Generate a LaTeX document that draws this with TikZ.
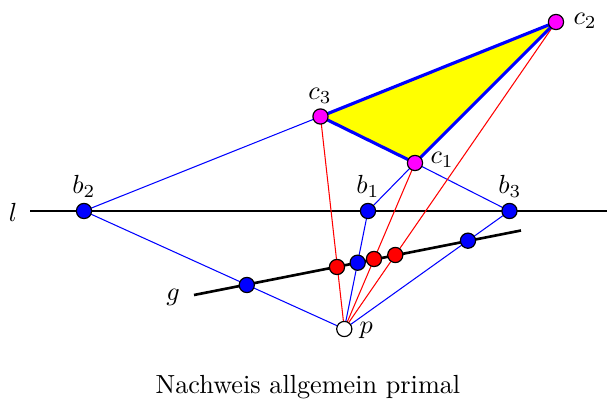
\documentclass[tikz,border=0pt]{standalone}
\definecolor{mag}{RGB}{255,0,255}
\definecolor{yel}{RGB}{255,255,0}
\definecolor{blu}{RGB}{0,0,255}
\definecolor{rd}{RGB}{255,0,0}
\begin{document}
\begin{tikzpicture}[x=0.3815pt,y=-0.3815pt,
  pt/.style={circle,draw=black,line width=0.45pt,inner sep=0pt,minimum size=5.8pt},
  bpt/.style={pt,fill=blu},
  rpt/.style={pt,fill=rd},
  mpt/.style={pt,fill=mag},
  wpt/.style={pt,fill=white},
  bl/.style={blu,line width=0.4pt},
  rl/.style={rd,line width=0.4pt},
  lbl/.style={inner sep=0pt}]
\useasboundingbox (0,0) rectangle (607,403);
% coordinates
\coordinate (C1) at (415,163);
\coordinate (C2) at (556,22);
\coordinate (C3) at (320.5,116.5);
\coordinate (B1) at (368,211);
\coordinate (B2) at (84,211);
\coordinate (B3) at (509.5,211);
\coordinate (P) at (344.3,329);
\coordinate (L0) at (30.5,211);
\coordinate (L1) at (607,211);
\coordinate (G0) at (194,295);
\coordinate (G1) at (521,230.5);
% triangle
\fill[yel] (C1) -- (C2) -- (C3) -- cycle;
% line l
\draw[line width=0.4pt] (L0) -- (L1);
% blue thin lines
\draw[bl] (B2) -- (C3);
\draw[bl] (B2) -- (P);
\draw[bl] (B1) -- (C1);
\draw[bl] (B1) -- (P);
\draw[bl] (B3) -- (C1);
\draw[bl] (B3) -- (P);
% red lines
\draw[rl] (C3) -- (P);
\draw[rl] (C1) -- (P);
\draw[rl] (C2) -- (P);
% triangle border
\draw[blu,line width=1.2pt,line join=round] (C1) -- (C2) -- (C3) -- cycle;
% line g
\draw[line width=1pt] (G0) -- (G1);
% points on g
\node[bpt] (q2) at (246.8,285) {};
\node[rpt] (r3) at (337,267) {};
\node[bpt] (q1) at (357.7,262.7) {};
\node[rpt] (r1) at (374,259) {};
\node[rpt] (r2) at (395.3,255) {};
\node[bpt] (q3) at (468,240.7) {};
% main points
\node[bpt] (b1) at (B1) {};
\node[bpt] (b2) at (B2) {};
\node[bpt] (b3) at (B3) {};
\node[mpt] (c1) at (C1) {};
\node[mpt] (c2) at (C2) {};
\node[mpt] (c3) at (C3) {};
\node[wpt] (p) at (P) {};
% labels
\node[lbl,anchor=west] (lc2) at (573,21) {$c_2$};
\node[lbl] (lc3) at (320,96) {$c_3$};
\node[lbl,anchor=west] (lc1) at (430,160) {$c_1$};
\node[lbl] (lb2) at (84,186) {$b_2$};
\node[lbl] (lb1) at (368,186) {$b_1$};
\node[lbl] (lb3) at (510,186) {$b_3$};
\node[lbl,anchor=west] (lp) at (359,330) {$p$};
\node[lbl] (ll) at (13,212) {$l$};
\node[lbl] (lg) at (173,297) {$g$};
\node[lbl,anchor=base] (cap) at (308,394) {Nachweis allgemein primal};
\end{tikzpicture}
\end{document}
